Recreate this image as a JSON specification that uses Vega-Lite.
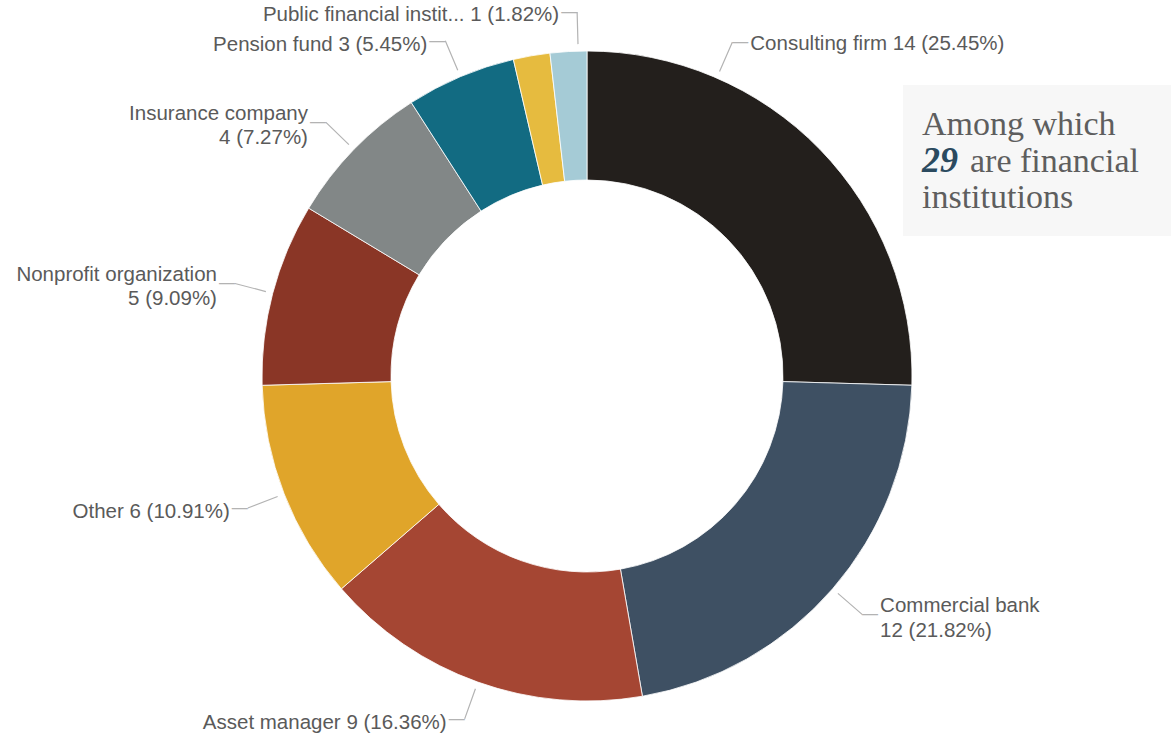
{
  "$schema": "https://vega.github.io/schema/vega-lite/v6.json",
  "width": 1168,
  "height": 730,
  "autosize": {"type": "none"},
  "padding": {"left": 3, "top": 11, "right": 0, "bottom": 0},
  "background": "#ffffff",
  "config": {"view": {"stroke": null}},
  "layer": [
    {
      "data": {"values": [
        {"category": "Consulting firm", "count": 14, "pct": "25.45%", "order": 1, "label": "Consulting firm 14 (25.45%)"},
        {"category": "Commercial bank", "count": 12, "pct": "21.82%", "order": 2, "label": "Commercial bank\n12 (21.82%)"},
        {"category": "Asset manager", "count": 9, "pct": "16.36%", "order": 3, "label": "Asset manager 9 (16.36%)"},
        {"category": "Other", "count": 6, "pct": "10.91%", "order": 4, "label": "Other 6 (10.91%)"},
        {"category": "Nonprofit organization", "count": 5, "pct": "9.09%", "order": 5, "label": "Nonprofit organization\n5 (9.09%)"},
        {"category": "Insurance company", "count": 4, "pct": "7.27%", "order": 6, "label": "Insurance company\n4 (7.27%)"},
        {"category": "Pension fund", "count": 3, "pct": "5.45%", "order": 7, "label": "Pension fund 3 (5.45%)"},
        {"category": "(unlabeled)", "count": 1, "pct": "1.82%", "order": 8, "label": ""},
        {"category": "Public financial institution", "count": 1, "pct": "1.82%", "order": 9, "label": "Public financial instit... 1 (1.82%)"}
      ]},
      "encoding": {
        "theta": {"field": "count", "type": "quantitative", "stack": true},
        "order": {"field": "order", "type": "quantitative", "sort": "ascending"},
        "detail": {"field": "category", "type": "nominal"}
      },
      "layer": [
        {
          "mark": {"type": "arc", "outerRadius": 325, "innerRadius": 196, "stroke": "#ffffff", "strokeWidth": 1, "strokeOpacity": 0.8},
          "encoding": {
            "color": {
              "field": "category", "type": "nominal", "legend": null,
              "scale": {
                "domain": ["Consulting firm", "Commercial bank", "Asset manager", "Other", "Nonprofit organization", "Insurance company", "Pension fund", "(unlabeled)", "Public financial institution"],
                "range": ["#231f1c", "#3e5063", "#a54633", "#e0a52a", "#8a3626", "#828787", "#126b82", "#e6bb3f", "#a5cbd6"]
              }
            }
          }
        },
        {
          "mark": {"type": "arc", "outerRadius": 364, "innerRadius": 332, "padAngle": 3, "fillOpacity": 0, "stroke": "#b3b3b3", "strokeWidth": 1.2},
          "encoding": {
            "strokeOpacity": {"condition": {"test": "datum.label != '' && datum.category != 'Consulting firm' && datum.category != 'Public financial institution'", "value": 1}, "value": 0}
          }
        },
        {
          "mark": {"type": "arc", "outerRadius": 364, "innerRadius": 332, "padAngle": 3, "fillOpacity": 0, "stroke": "#b3b3b3", "strokeWidth": 1.2, "thetaOffset": -0.389, "theta2Offset": -0.389},
          "encoding": {
            "strokeOpacity": {"condition": {"test": "datum.category == 'Consulting firm'", "value": 1}, "value": 0}
          }
        },
        {
          "mark": {"type": "arc", "outerRadius": 364, "innerRadius": 332, "padAngle": 3, "fillOpacity": 0, "stroke": "#b3b3b3", "strokeWidth": 1.2, "thetaOffset": 0.03, "theta2Offset": 0.03},
          "encoding": {
            "strokeOpacity": {"condition": {"test": "datum.category == 'Public financial institution'", "value": 1}, "value": 0}
          }
        },
        {
          "mark": {"type": "text", "radius": 364, "align": "left", "baseline": "middle", "font": "Liberation Sans", "fontSize": 16, "color": "#b3b3b3"},
          "encoding": {
            "text": {"condition": {"test": "datum.category == 'Commercial bank'", "value": "—"}, "value": ""}
          }
        },
        {
          "mark": {"type": "text", "radius": 364, "align": "right", "baseline": "middle", "font": "Liberation Sans", "fontSize": 16, "color": "#b3b3b3"},
          "encoding": {
            "text": {"condition": {"test": "datum.label != '' && datum.order >= 3 && datum.order <= 7", "value": "—"}, "value": ""}
          }
        },
        {
          "mark": {"type": "text", "radius": 364, "align": "right", "baseline": "middle", "font": "Liberation Sans", "fontSize": 16, "color": "#b3b3b3", "thetaOffset": 0.03},
          "encoding": {
            "text": {"condition": {"test": "datum.category == 'Public financial institution'", "value": "—"}, "value": ""}
          }
        },
        {
          "mark": {"type": "text", "radius": 364, "align": "left", "baseline": "middle", "font": "Liberation Sans", "fontSize": 16, "color": "#b3b3b3", "thetaOffset": -0.389},
          "encoding": {
            "text": {"condition": {"test": "datum.category == 'Consulting firm'", "value": "—"}, "value": ""}
          }
        },
        {
          "mark": {"type": "text", "radius": 364, "align": "left", "baseline": "middle", "dx": 18, "dy": -8, "font": "Liberation Sans", "fontSize": 20.5, "lineHeight": 25, "lineBreak": "\n", "color": "#5a5a5a"},
          "encoding": {
            "text": {"condition": {"test": "datum.category == 'Commercial bank'", "field": "label"}, "value": ""}
          }
        },
        {
          "mark": {"type": "text", "radius": 364, "align": "right", "baseline": "middle", "dx": -18, "dy": -8, "font": "Liberation Sans", "fontSize": 20.5, "lineHeight": 24, "lineBreak": "\n", "color": "#5a5a5a"},
          "encoding": {
            "text": {"condition": {"test": "datum.category == 'Nonprofit organization' || datum.category == 'Insurance company'", "field": "label"}, "value": ""}
          }
        },
        {
          "mark": {"type": "text", "radius": 364, "align": "right", "baseline": "middle", "dx": -18, "dy": 4, "font": "Liberation Sans", "fontSize": 20.5, "color": "#5a5a5a"},
          "encoding": {
            "text": {"condition": {"test": "datum.category == 'Asset manager' || datum.category == 'Other' || datum.category == 'Pension fund'", "field": "label"}, "value": ""}
          }
        },
        {
          "mark": {"type": "text", "radius": 364, "align": "right", "baseline": "middle", "dx": -18, "dy": 3, "font": "Liberation Sans", "fontSize": 20.5, "color": "#5a5a5a", "thetaOffset": 0.03},
          "encoding": {
            "text": {"condition": {"test": "datum.category == 'Public financial institution'", "field": "label"}, "value": ""}
          }
        },
        {
          "mark": {"type": "text", "radius": 364, "align": "left", "baseline": "middle", "dx": 18, "dy": 2, "font": "Liberation Sans", "fontSize": 20.5, "color": "#5a5a5a", "thetaOffset": -0.389},
          "encoding": {
            "text": {"condition": {"test": "datum.category == 'Consulting firm'", "field": "label"}, "value": ""}
          }
        }
      ]
    },
    {
      "data": {"values": [
        {"part": "line1", "note": "Among which"},
        {"part": "num", "note": "29"},
        {"part": "line2", "note": "are financial"},
        {"part": "line3", "note": "institutions"}
      ]},
      "layer": [
        {
          "transform": [{"filter": "datum.part == 'line1'"}],
          "mark": {"type": "rect", "color": "#f7f7f7"},
          "encoding": {
            "x": {"datum": 77.05, "type": "quantitative", "scale": {"domain": [0, 100]}, "axis": null},
            "x2": {"datum": 100},
            "y": {"datum": 10.14, "type": "quantitative", "scale": {"domain": [0, 100], "reverse": true}, "axis": null},
            "y2": {"datum": 30.82}
          }
        },
        {
          "transform": [{"filter": "datum.part == 'line1'"}],
          "mark": {"type": "text", "align": "left", "baseline": "alphabetic", "font": "Liberation Serif", "fontSize": 34, "color": "#5e5e5e"},
          "encoding": {
            "x": {"datum": 78.68, "type": "quantitative"},
            "y": {"datum": 16.99, "type": "quantitative"},
            "text": {"field": "note"}
          }
        },
        {
          "transform": [{"filter": "datum.part == 'num'"}],
          "mark": {"type": "text", "align": "left", "baseline": "alphabetic", "font": "Liberation Serif", "fontSize": 36, "fontWeight": "bold", "fontStyle": "italic", "color": "#2b4a5f"},
          "encoding": {
            "x": {"datum": 78.68, "type": "quantitative"},
            "y": {"datum": 22.05, "type": "quantitative"},
            "text": {"field": "note"}
          }
        },
        {
          "transform": [{"filter": "datum.part == 'line2'"}],
          "mark": {"type": "text", "align": "left", "baseline": "alphabetic", "font": "Liberation Serif", "fontSize": 34, "color": "#5e5e5e"},
          "encoding": {
            "x": {"datum": 82.79, "type": "quantitative"},
            "y": {"datum": 22.05, "type": "quantitative"},
            "text": {"field": "note"}
          }
        },
        {
          "transform": [{"filter": "datum.part == 'line3'"}],
          "mark": {"type": "text", "align": "left", "baseline": "alphabetic", "font": "Liberation Serif", "fontSize": 34, "color": "#5e5e5e"},
          "encoding": {
            "x": {"datum": 78.68, "type": "quantitative"},
            "y": {"datum": 27.05, "type": "quantitative"},
            "text": {"field": "note"}
          }
        }
      ]
    }
  ]
}
